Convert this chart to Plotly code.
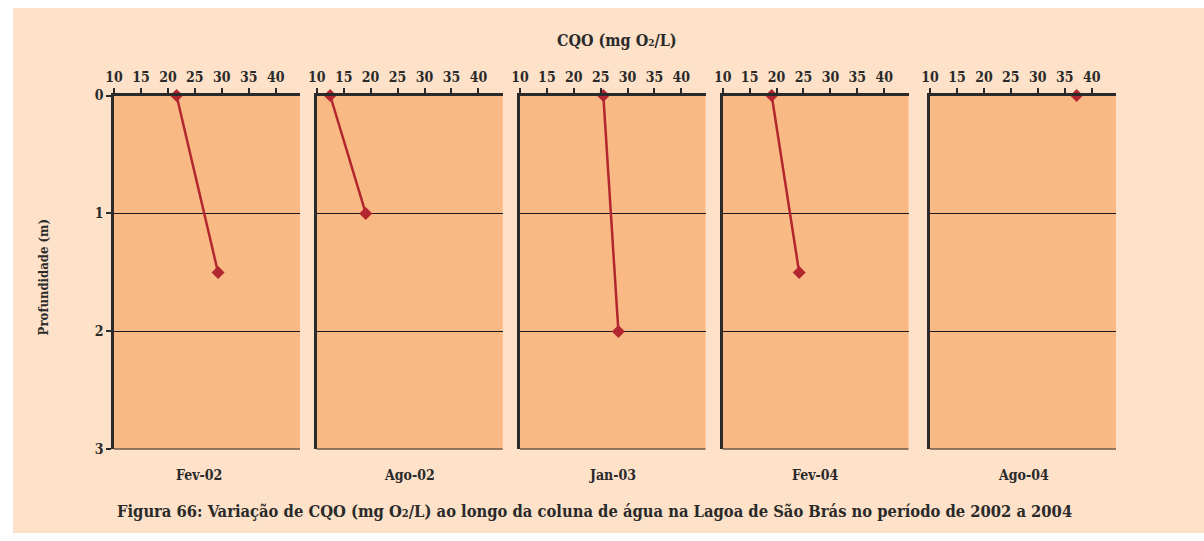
import plotly.graph_objects as go

# ---- data ----
periods = ["Fev-02", "Ago-02", "Jan-03", "Fev-04", "Ago-04"]
cqo_fev02 = [21.6, 29.3]
depth_fev02 = [0, 1.5]
cqo_ago02 = [12.5, 19.1]
depth_ago02 = [0, 1]
cqo_jan03 = [25.5, 28.3]
depth_jan03 = [0, 2]
cqo_fev04 = [19.1, 24.2]
depth_fev04 = [0, 1.5]
cqo_ago04 = [37.2]
depth_ago04 = [0]
x_ticks = [10, 15, 20, 25, 30, 35, 40]
y_ticks = [0, 1, 2, 3]

series = [(cqo_fev02, depth_fev02), (cqo_ago02, depth_ago02), (cqo_jan03, depth_jan03),
          (cqo_fev04, depth_fev04), (cqo_ago04, depth_ago04)]

W, H = 1204, 541
ML, MT = 13, 7
BG = "#FDE1C8"
PLOT = "#F9B984"
RED = "#B2262F"
INK = "#2a2a2a"
FONT = "DejaVu Serif Condensed"

panels_px = [(114, 300), (316.7, 502.7), (520, 705.5), (722.7, 908.5), (930, 1116)]
label_cx = [199, 409.7, 612.7, 815.6, 1023]
y_top_px, y_bot_px = 96, 456


def px(x):
    return (x - ML) / (W - ML)


def py(y):
    return (H - y) / (H - MT)


fig = go.Figure()
layout = dict(
    width=W, height=H,
    margin=dict(l=ML, r=0, t=MT, b=0, pad=0),
    paper_bgcolor="white",
    plot_bgcolor=PLOT,
    showlegend=False,
    font=dict(family=FONT, color=INK, size=14),
)

annotations = []
shapes = [dict(type="rect", xref="paper", yref="paper", x0=0, x1=1, y0=0, y1=1,
               fillcolor=BG, line=dict(width=0), layer="below")]
for i, ((xs, ys), (x0, x1)) in enumerate(zip(series, panels_px)):
    n = i + 1
    xa = "x" if n == 1 else f"x{n}"
    ya = "y" if n == 1 else f"y{n}"
    fig.add_trace(go.Scatter(
        x=xs, y=ys, xaxis=xa, yaxis=ya, mode="lines+markers",
        line=dict(color=RED, width=2.5),
        marker=dict(symbol="diamond", size=10, color=RED),
        cliponaxis=False,
    ))
    layout[f"xaxis{n if n > 1 else ''}"] = dict(
        domain=[px(x0), px(x1)], range=[10, 44.5], side="top",
        anchor=ya, tickvals=x_ticks, ticks="outside", ticklen=5, tickwidth=2,
        tickcolor=INK, showline=True, linewidth=2.5, linecolor=INK,
        showgrid=False, zeroline=False, fixedrange=True,
        tickfont=dict(family=FONT, size=14, color=INK, weight="bold"),
    )
    layout[f"yaxis{n if n > 1 else ''}"] = dict(
        domain=[py(y_bot_px), py(y_top_px)], range=[3, 0],
        anchor=xa, tickvals=y_ticks,
        ticks="outside" if n == 1 else "", ticklen=5, tickwidth=1.5, tickcolor=INK,
        showticklabels=(n == 1), showline=True, linewidth=2.5, linecolor=INK,
        showgrid=True, gridcolor="#1a1a1a", gridwidth=1, zeroline=False, fixedrange=True,
        tickfont=dict(family=FONT, size=14, color=INK, weight="bold"),
    )
    # plot-area fill (drawn over the page background rectangle)
    shapes.append(dict(type="rect", xref=f"{xa} domain", yref=f"{ya} domain",
                       x0=0, x1=1, y0=0, y1=1, fillcolor=PLOT, line=dict(width=0),
                       layer="below"))
    # bottom frame line at the deepest tick
    shapes.append(dict(type="line", xref=f"{xa} domain", x0=0, x1=1,
                       yref=ya, y0=y_ticks[-1], y1=y_ticks[-1],
                       line=dict(color=INK, width=2), layer="above"))
    annotations.append(dict(
        text=periods[i], x=px(label_cx[i]), y=py(482), xref="paper", yref="paper",
        showarrow=False, xanchor="center", yanchor="middle",
        font=dict(family=FONT, size=14, color=INK, weight="bold"),
    ))

annotations.append(dict(
    text="CQO (mg O<span style='font-size:10px'>2</span>/L)", x=px(617), y=py(40),
    xref="paper", yref="paper", showarrow=False, xanchor="center", yanchor="middle",
    font=dict(family=FONT, size=16, color=INK, weight="bold"),
))
annotations.append(dict(
    text="Profundidade (m)", x=px(43), y=py(281), xref="paper", yref="paper",
    showarrow=False, textangle=-90, xanchor="center", yanchor="middle",
    font=dict(family=FONT, size=13, color=INK, weight="bold"),
))
annotations.append(dict(
    text="Figura 66: Variação de CQO (mg O<span style='font-size:11px'>2</span>/L) ao longo da coluna de água na Lagoa de São Brás no período de 2002 a 2004",
    x=px(594), y=py(519), xref="paper", yref="paper", showarrow=False,
    xanchor="center", yanchor="middle",
    font=dict(family=FONT, size=16.4, color=INK, weight="bold"),
))

layout["annotations"] = annotations
layout["shapes"] = shapes
fig.update_layout(**layout)
fig.write_html(
    "out.html",
    config={"displayModeBar": False},
    post_script="document.body.style.margin='0px';document.body.style.background='white';document.body.style.overflow='hidden';",
)
